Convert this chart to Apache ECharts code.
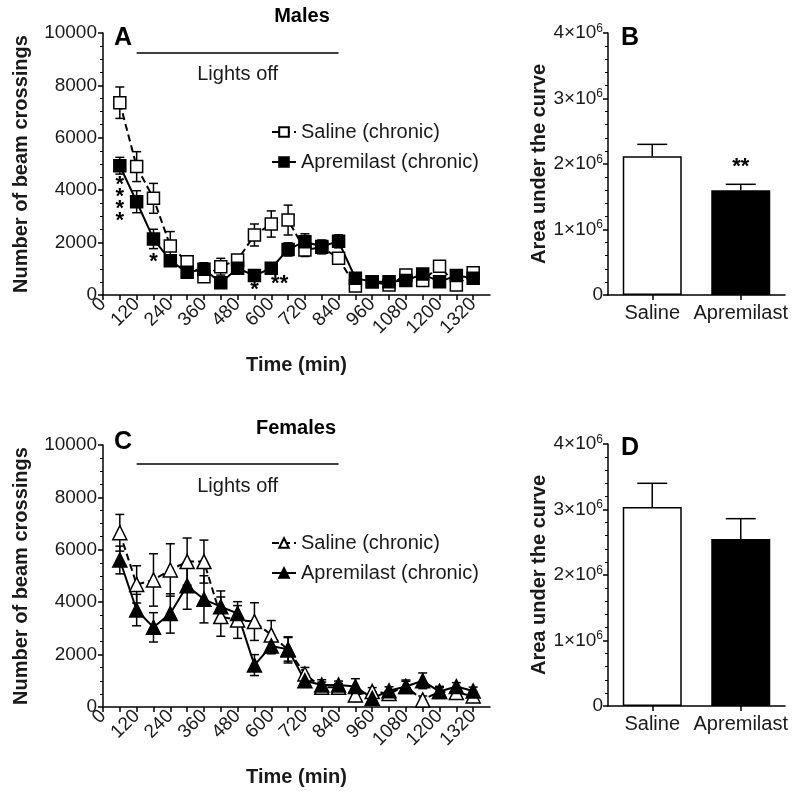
<!DOCTYPE html>
<html><head><meta charset="utf-8">
<script src="https://cdn.jsdelivr.net/npm/echarts@6/dist/echarts.min.js"></script>
<style>html,body{margin:0;padding:0;background:#fff}#c{width:800px;height:800px}</style>
</head><body><div id="c"></div>
<script>
// ---- data ----
const timeMin = [60,120,180,240,300,360,420,480,540,600,660,720,780,840,900,960,1020,1080,1140,1200,1260,1320];
const maleSaline     = [7340,4900,3690,1870,1270,700,1080,1340,2290,2710,2860,1720,1820,1400,340,510,380,760,550,1100,380,850];
const maleSalineSem  = [600,570,570,550,200,150,320,200,420,500,570,250,250,200,100,100,100,100,100,150,100,100];
const maleAprem      = [4935,3560,2140,1310,865,980,470,1020,740,1020,1740,2035,1850,2050,640,510,510,550,800,510,740,640];
const maleApremSem   = [320,420,370,200,150,250,100,150,150,100,250,300,250,250,100,100,100,100,100,100,100,100];
const femaleSaline    = [6650,4680,4850,5230,5550,5550,3450,3320,3260,2750,2180,1260,750,750,460,590,520,780,270,590,550,420];
const femaleSalineSem = [700,710,1000,1000,900,820,750,700,720,550,500,250,200,150,250,150,100,200,150,200,150,150];
const femaleAprem     = [5610,3700,3040,3570,4630,4110,3830,3570,1600,2330,2200,1000,840,840,780,330,620,780,1000,590,780,610];
const femaleApremSem  = [530,600,560,750,900,900,600,300,400,300,450,250,200,150,300,150,150,250,300,150,150,150];
const aucCategories = ['Saline','Apremilast'];
const aucMale      = [2.12e6, 1.60e6];
const aucMaleSem   = [0.18e6, 0.09e6];
const aucFemale    = [3.04e6, 2.55e6];
const aucFemaleSem = [0.36e6, 0.31e6];
const xTickLabels = [0,120,240,360,480,600,720,840,960,1080,1200,1320];
const lightsOff = [120, 840];

const FONT = 'Liberation Sans, Arial, Helvetica, sans-serif';
const TXT = '#1a1a1a';
const chart = echarts.init(document.getElementById('c'), null, {renderer:'canvas'});

function errSeries(xi, yi, xs, ys, sems, capW, z, upOnly) {
  return {
    type:'custom', xAxisIndex:xi, yAxisIndex:yi, z:z, silent:true,
    data: xs.map((x,i)=>[x, ys[i], sems[i]]),
    encode:{x:0,y:1},
    renderItem(params, api){
      const x = api.value(0), y = api.value(1), s = api.value(2);
      const hi = api.coord([x, y+s]);
      const lo = api.coord([x, upOnly ? y : y-s]);
      const h = capW/2;
      const st = {stroke:'#000', lineWidth:1.5};
      const ch = [
        {type:'line', shape:{x1:hi[0],y1:hi[1],x2:lo[0],y2:lo[1]}, style:st},
        {type:'line', shape:{x1:hi[0]-h,y1:hi[1],x2:hi[0]+h,y2:hi[1]}, style:st}
      ];
      if (!upOnly) ch.push({type:'line', shape:{x1:lo[0]-h,y1:lo[1],x2:lo[0]+h,y2:lo[1]}, style:st});
      return {type:'group', children:ch};
    }
  };
}

function timeXAxis(gi){
  return {
    type:'value', gridIndex:gi, min:0, max:1380, interval:60,
    name:'Time (min)', nameLocation:'middle', nameGap:60,
    nameTextStyle:{fontFamily:FONT, fontSize:20, fontWeight:'bold', color:TXT},
    axisLine:{show:true, onZero:false, lineStyle:{color:'#000', width:1.5}},
    axisTick:{show:true, length:5, lineStyle:{color:'#000', width:1.5}},
    axisLabel:{show:true, rotate:45, margin:6, fontFamily:FONT, fontSize:19, color:TXT,
      showMaxLabel:false, hideOverlap:false,
      formatter:v => xTickLabels.indexOf(v) >= 0 ? String(v) : ''},
    splitLine:{show:false}
  };
}
function countYAxis(gi){
  return {
    type:'value', gridIndex:gi, min:0, max:10000, interval:2000,
    name:'Number of beam crossings', nameLocation:'middle', nameGap:72,
    nameTextStyle:{fontFamily:FONT, fontSize:20, fontWeight:'bold', color:TXT},
    axisLine:{show:true, onZero:false, lineStyle:{color:'#000', width:1.5}},
    axisTick:{show:true, length:5, lineStyle:{color:'#000', width:1.5}},
    minorTick:{show:true, splitNumber:4, length:3, lineStyle:{color:'#000', width:1}},
    axisLabel:{show:true, margin:6, fontFamily:FONT, fontSize:19, color:TXT, formatter:v=>String(v)},
    splitLine:{show:false}, minorSplitLine:{show:false}
  };
}
function catXAxis(gi){
  return {
    type:'category', gridIndex:gi, data:aucCategories,
    axisLine:{show:true, lineStyle:{color:'#000', width:1.5}},
    axisTick:{show:true, alignWithLabel:true, length:5, lineStyle:{color:'#000', width:1.5}},
    axisLabel:{show:true, margin:8, fontFamily:FONT, fontSize:20, color:TXT, interval:0},
    splitLine:{show:false}
  };
}
function aucYAxis(gi){
  return {
    type:'value', gridIndex:gi, min:0, max:4e6, interval:1e6,
    name:'Area under the curve', nameLocation:'middle', nameGap:56,
    nameTextStyle:{fontFamily:FONT, fontSize:20, fontWeight:'bold', color:TXT},
    axisLine:{show:true, lineStyle:{color:'#000', width:1.5}},
    axisTick:{show:true, length:5, lineStyle:{color:'#000', width:1.5}},
    minorTick:{show:true, splitNumber:5, length:3, lineStyle:{color:'#000', width:1}},
    axisLabel:{show:true, margin:5, fontFamily:FONT, fontSize:19, color:TXT,
      formatter: v => v === 0 ? '0' : (v/1e6) + '×10{sup|6}',
      rich:{sup:{fontFamily:FONT, fontSize:12, color:TXT, verticalAlign:'top', padding:[0,0,9,0]}}},
    splitLine:{show:false}, minorSplitLine:{show:false}
  };
}

function lineSeries(name, xi, yi, ys, symbol, size, open, dashed){
  return {
    type:'line', name:name, xAxisIndex:xi, yAxisIndex:yi, z:3,
    data: timeMin.map((t,i)=>[t, ys[i]]),
    symbol:symbol, symbolSize:size, showAllSymbol:true,
    lineStyle:{color:'#000', width:2, type: dashed ? [7,4] : 'solid'},
    itemStyle:{color: open ? '#fff' : '#000', borderColor:'#000', borderWidth:1.5},
    emphasis:{disabled:true}
  };
}

function lightsMark(yv){
  return {
    silent:true, symbol:['none','none'],
    lineStyle:{color:'#000', width:1.5, type:'solid'},
    label:{show:true, formatter:'Lights off', position:'insideMiddleBottom', distance:12,
      fontFamily:FONT, fontSize:20, color:TXT},
    data:[[{coord:[lightsOff[0], yv]}, {coord:[lightsOff[1], yv]}]]
  };
}

function starMark(items){
  return {
    silent:true, symbol:'circle', symbolSize:0,
    label:{show:true, position:'inside', formatter:p=>p.name, fontFamily:FONT, fontSize:22,
      fontWeight:'bold', color:'#000', lineHeight:12},
    data: items.map(it=>({name:it[2], coord:[it[0], it[1]]}))
  };
}

const sA = lineSeries('mS',0,0,maleSaline,'rect',12,true,true);
const aA = lineSeries('mA',0,0,maleAprem,'rect',12,false,false);
sA.markLine = lightsMark(9250);
aA.markPoint = starMark([[60,3500,'*\n*\n*\n*'],[180,1250,'*'],[540,200,'*'],[630,420,'**']]);
const sC = lineSeries('fS',2,2,femaleSaline,'triangle',14,true,true);
const aC = lineSeries('fA',2,2,femaleAprem,'triangle',14,false,false);
sC.markLine = lightsMark(9275);

function barSeries(xi, yi, vals, stars){
  const s = {
    type:'bar', xAxisIndex:xi, yAxisIndex:yi, barWidth:59, z:2,
    data: vals.map((v,i)=>({value:v, itemStyle: i===0
      ? {color:'#fff', borderColor:'#000', borderWidth:1.5}
      : {color:'#000', borderColor:'#000', borderWidth:1.5}})),
    emphasis:{disabled:true}
  };
  if (stars) s.markPoint = {silent:true, symbol:'circle', symbolSize:0,
    label:{show:true, position:'inside', formatter:p=>p.name, fontFamily:FONT, fontSize:22, fontWeight:'bold', color:'#000'},
    data: stars.map(it=>({name:it[2], coord:[it[0], it[1]]}))};
  return s;
}

const legendNames = {mS:'Saline (chronic)', mA:'Apremilast (chronic)', fS:'Saline (chronic)', fA:'Apremilast (chronic)'};
function legend(names, top){
  return {data:names, left:266, top:top, orient:'vertical', itemGap:10, itemWidth:24, itemHeight:12,
    selectedMode:false, formatter:n=>legendNames[n],
    textStyle:{fontFamily:FONT, fontSize:20, color:TXT}};
}

const textStyleT = {fontFamily:FONT, fontSize:20, fontWeight:'bold', color:'#000'};
const letter = {fontFamily:FONT, fontSize:25, fontWeight:'bold', color:'#000'};

chart.setOption({
  animation:false,
  backgroundColor:'#fff',
  textStyle:{fontFamily:FONT},
  grid:[
    {left:103, top:33, width:387, height:262},
    {left:608, top:33, width:177, height:262},
    {left:103, top:445, width:387, height:262},
    {left:608, top:444, width:177, height:262}
  ],
  xAxis:[timeXAxis(0), catXAxis(1), timeXAxis(2), catXAxis(3)],
  yAxis:[countYAxis(0), aucYAxis(1), countYAxis(2), aucYAxis(3)],
  legend:[legend(['mS','mA'],117), legend(['fS','fA'],528)],
  graphic:[
    {type:'text', x:302, y:6, style:Object.assign({text:'Males', textAlign:'center'}, textStyleT)},
    {type:'text', x:296, y:418, style:Object.assign({text:'Females', textAlign:'center'}, textStyleT)},
    {type:'text', x:114, y:26, style:Object.assign({text:'A'}, letter)},
    {type:'text', x:621, y:26, style:Object.assign({text:'B'}, letter)},
    {type:'text', x:114, y:430, style:Object.assign({text:'C'}, letter)},
    {type:'text', x:621, y:436, style:Object.assign({text:'D'}, letter)}
  ],
  series:[
    errSeries(0,0,timeMin,maleSaline,maleSalineSem,9,1,false),
    errSeries(0,0,timeMin,maleAprem,maleApremSem,9,1,false),
    sA, aA,
    errSeries(2,2,timeMin,femaleSaline,femaleSalineSem,9,1,false),
    errSeries(2,2,timeMin,femaleAprem,femaleApremSem,9,1,false),
    sC, aC,
    barSeries(1,1,aucMale,[[1,1.95e6,'**']]),
    errSeries(1,1,[0,1],aucMale,aucMaleSem,30,1,true),
    barSeries(3,3,aucFemale,null),
    errSeries(3,3,[0,1],aucFemale,aucFemaleSem,30,1,true)
  ]
});
</script></body></html>
